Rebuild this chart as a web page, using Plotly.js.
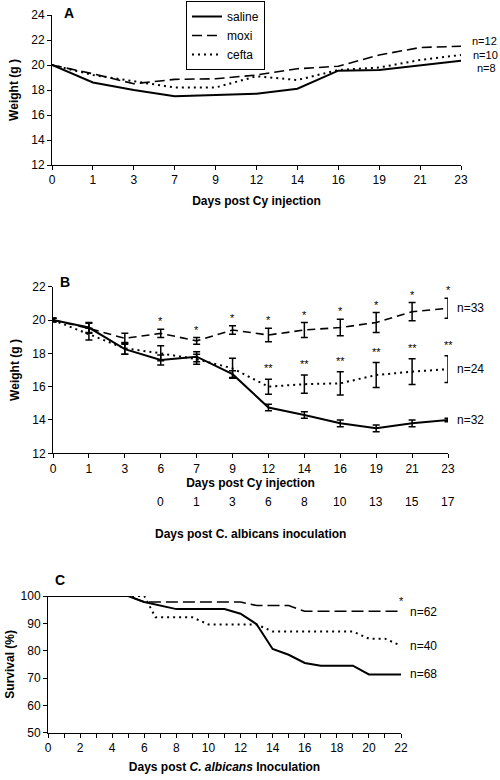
<!DOCTYPE html>
<html><head><meta charset="utf-8">
<script src="https://cdn.plot.ly/plotly-3.0.1.min.js"></script>
<style>html,body{margin:0;padding:0;background:#fff}#chart{width:500px;height:780px}</style>
</head><body><div id="chart"></div>
<script>
// ---------- Panel A ----------
const cyDaysA = ['0','1','3','7','9','12','14','16','19','21','23'];
const salineA = [20, 18.6, 18.0, 17.5, 17.6, 17.7, 18.1, 19.55, 19.6, 20.0, 20.35];
const moxiA   = [20, 19.3, 18.5, 18.85, 18.9, 19.2, 19.7, 19.9, 20.8, 21.4, 21.5];
const ceftaA  = [20, 19.2, 18.7, 18.2, 18.2, 19.1, 18.8, 19.6, 19.8, 20.4, 20.8];
const nLabelsA = ['n=8', 'n=12', 'n=10']; // saline, moxi, cefta

// ---------- Panel B ----------
const cyDaysB = ['0','1','3','6','7','9','12','14','16','19','21','23'];
const inocDaysB = ['0','1','3','6','8','10','13','15','17']; // under Cy days 6..23
const salineB   = [20, 19.55, 18.25, 17.6, 17.8, 16.75, 14.75, 14.3, 13.8, 13.5, 13.8, 14.0];
const salineErr = [0.1, 0.3, 0.3, 0.3, 0.3, 0.2, 0.2, 0.2, 0.2, 0.2, 0.2, 0.1];
const moxiB     = [20, 19.5, 18.9, 19.2, 18.75, 19.4, 19.1, 19.4, 19.55, 19.85, 20.5, 20.7];
const moxiErr   = [0.1, 0.3, 0.3, 0.25, 0.2, 0.25, 0.4, 0.45, 0.5, 0.6, 0.55, 0.6];
const ceftaB    = [20, 19.15, 18.3, 18.0, 17.65, 17.1, 16.0, 16.15, 16.2, 16.7, 16.9, 17.05];
const ceftaErr  = [0.1, 0.35, 0.35, 0.45, 0.3, 0.6, 0.45, 0.55, 0.7, 0.75, 0.77, 0.8];
const moxiStarDays  = ['6','7','9','12','14','16','19','21','23'];
const ceftaStarDays = ['12','14','16','19','21','23'];
const nLabelsB = ['n=32', 'n=33', 'n=24'];

// ---------- Panel C ----------
const survSalineDays = [0, 5, 6, 7, 8, 11, 12, 13, 14, 15, 16, 17, 19, 20, 22];
const survSaline     = [100, 100, 97.8, 96.5, 95.2, 95.2, 93.5, 89.7, 80.6, 78.5, 75.5, 74.5, 74.5, 71.3, 71.3];
const survMoxiDays   = [0, 5, 6, 12, 13, 15, 16, 22];
const survMoxi       = [100, 100, 97.8, 97.8, 96.5, 96.5, 94.4, 94.4];
const survCeftaDays  = [0, 6, 6.7, 9, 10, 13, 14, 19, 20, 21, 22];
const survCefta      = [100, 100, 92.2, 92.2, 89.6, 89.6, 87, 87, 84.4, 84.4, 81.8];
const nLabelsC = ['n=68', 'n=62', 'n=40'];

const FONT = 'Liberation Sans, Arial, sans-serif';
const px = x => x / 500;
const py = y => 1 - y / 780;

const styles = {
  saline: {color: '#000', width: 2, dash: 'solid'},
  moxi:   {color: '#000', width: 1.6, dash: '10px,5px'},
  cefta:  {color: '#000', width: 2, dash: '2px,4px'}
};
const errStyle = arr => ({type: 'data', array: arr, visible: true, color: '#000', thickness: 1.5, width: 3.5});

const traces = [
  {x: cyDaysA, y: salineA, name: 'saline', mode: 'lines', line: styles.saline, xaxis: 'x', yaxis: 'y'},
  {x: cyDaysA, y: moxiA, name: 'moxi', mode: 'lines', line: styles.moxi, xaxis: 'x', yaxis: 'y'},
  {x: cyDaysA, y: ceftaA, name: 'cefta', mode: 'lines', line: styles.cefta, xaxis: 'x', yaxis: 'y'},
  {x: cyDaysB, y: salineB, error_y: errStyle(salineErr), mode: 'lines', line: styles.saline, xaxis: 'x2', yaxis: 'y2', showlegend: false},
  {x: cyDaysB, y: moxiB, error_y: errStyle(moxiErr), mode: 'lines', line: {color: '#000', width: 1.6, dash: '8px,5px'}, xaxis: 'x2', yaxis: 'y2', showlegend: false},
  {x: cyDaysB, y: ceftaB, error_y: errStyle(ceftaErr), mode: 'lines', line: styles.cefta, xaxis: 'x2', yaxis: 'y2', showlegend: false},
  {x: survSalineDays, y: survSaline, mode: 'lines', line: styles.saline, xaxis: 'x3', yaxis: 'y3', showlegend: false},
  {x: survMoxiDays, y: survMoxi, mode: 'lines', line: {color: '#000', width: 1.6, dash: '12px,5px'}, xaxis: 'x3', yaxis: 'y3', showlegend: false},
  {x: survCeftaDays, y: survCefta, mode: 'lines', line: styles.cefta, xaxis: 'x3', yaxis: 'y3', showlegend: false}
];

const tickFont = {family: FONT, size: 12, color: '#000'};
const titleFont = {family: FONT, size: 12, color: '#000'};
const baseAxis = {showline: true, linecolor: '#000', linewidth: 1, showgrid: false, zeroline: false,
  ticks: 'outside', ticklen: 4, tickcolor: '#000', tickwidth: 1, tickfont: tickFont};

const annotations = [];
const ann = (o) => annotations.push(Object.assign({showarrow: false, font: {family: FONT, size: 12, color: '#000'}}, o));

// panel letters
ann({text: '<b>A</b>', xref: 'paper', yref: 'paper', x: px(62), y: py(13), xanchor: 'left', yanchor: 'middle', font: {family: FONT, size: 14, color: '#000'}});
ann({text: '<b>B</b>', xref: 'paper', yref: 'paper', x: px(58), y: py(282), xanchor: 'left', yanchor: 'middle', font: {family: FONT, size: 14, color: '#000'}});
ann({text: '<b>C</b>', xref: 'paper', yref: 'paper', x: px(53), y: py(580), xanchor: 'left', yanchor: 'middle', font: {family: FONT, size: 14, color: '#000'}});

// n labels A (category axes: annotation x given as category index)
const lastA = cyDaysA.length - 1;
const nFontA = {family: FONT, size: 11, color: '#000'};
ann({text: nLabelsA[1], x: lastA, y: moxiA[lastA], xref: 'x', yref: 'y', xanchor: 'right', xshift: 38, yshift: 5, font: nFontA});
ann({text: nLabelsA[2], x: lastA, y: ceftaA[lastA], xref: 'x', yref: 'y', xanchor: 'right', xshift: 39, yshift: 0, font: nFontA});
ann({text: nLabelsA[0], x: lastA, y: salineA[lastA], xref: 'x', yref: 'y', xanchor: 'right', xshift: 37, yshift: -7, font: nFontA});

// n labels B
const lastB = cyDaysB.length - 1;
ann({text: nLabelsB[1], x: lastB, y: moxiB[lastB], xref: 'x2', yref: 'y2', xanchor: 'left', xshift: 7});
ann({text: nLabelsB[2], x: lastB, y: ceftaB[lastB], xref: 'x2', yref: 'y2', xanchor: 'left', xshift: 7});
ann({text: nLabelsB[0], x: lastB, y: salineB[lastB], xref: 'x2', yref: 'y2', xanchor: 'left', xshift: 7});

// stars B
const starFont = {family: FONT, size: 11, color: '#000'};
moxiStarDays.forEach(d => {
  const i = cyDaysB.indexOf(d);
  ann({text: '*', x: i, y: moxiB[i] + moxiErr[i], xref: 'x2', yref: 'y2', yanchor: 'bottom', yshift: 0, font: starFont});
});
ceftaStarDays.forEach(d => {
  const i = cyDaysB.indexOf(d);
  ann({text: '**', x: i, y: ceftaB[i] + ceftaErr[i], xref: 'x2', yref: 'y2', yanchor: 'bottom', yshift: 3, font: starFont});
});

// second x row for B (days post C. albicans inoculation)
inocDaysB.forEach((d, k) => {
  ann({text: d, x: k + 3, xref: 'x2', y: py(502), yref: 'paper', yanchor: 'middle', font: tickFont});
});
ann({text: '<b>Days post C. albicans inoculation</b>', xref: 'paper', yref: 'paper', x: px(250), y: py(534), yanchor: 'middle', font: titleFont});

// n labels C
const lastC = survMoxiDays[survMoxiDays.length - 1];
ann({text: nLabelsC[1], x: lastC, y: survMoxi[survMoxi.length - 1], xref: 'x3', yref: 'y3', xanchor: 'left', xshift: 7, yshift: -1});
ann({text: nLabelsC[2], x: lastC, y: survCefta[survCefta.length - 1], xref: 'x3', yref: 'y3', xanchor: 'left', xshift: 7});
ann({text: nLabelsC[0], x: lastC, y: survSaline[survSaline.length - 1], xref: 'x3', yref: 'y3', xanchor: 'left', xshift: 7});
ann({text: '*', x: lastC, y: survMoxi[survMoxi.length - 1], xref: 'x3', yref: 'y3', yanchor: 'bottom', yshift: 2, font: starFont});

const layout = {
  width: 500, height: 780,
  margin: {l: 0, r: 0, t: 0, b: 0},
  paper_bgcolor: '#fff', plot_bgcolor: '#fff',
  font: {family: FONT, size: 12, color: '#000'},
  showlegend: true,
  legend: {x: px(186), y: py(1), xanchor: 'left', yanchor: 'top', bordercolor: '#000', borderwidth: 1,
    bgcolor: '#fff', font: {family: FONT, size: 12, color: '#000'}, itemwidth: 30, tracegroupgap: 0},
  xaxis: Object.assign({}, baseAxis, {type: 'category', domain: [px(52), px(461)], range: [0, cyDaysA.length - 1],
    anchor: 'y', title: {text: '<b>Days post Cy injection</b>', font: titleFont, standoff: 10}}),
  yaxis: Object.assign({}, baseAxis, {domain: [py(165), py(15)], range: [12, 24], dtick: 2, anchor: 'x',
    title: {text: '<b>Weight (g )</b>', font: titleFont}}),
  xaxis2: Object.assign({}, baseAxis, {type: 'category', domain: [px(53), px(448)], range: [0, cyDaysB.length - 1],
    anchor: 'y2', title: {text: '<b>Days post Cy injection</b>', font: titleFont, standoff: 2}}),
  yaxis2: Object.assign({}, baseAxis, {domain: [py(453.3), py(286.7)], range: [12, 22], dtick: 2, anchor: 'x2',
    title: {text: '<b>Weight (g )</b>', font: titleFont}}),
  xaxis3: Object.assign({}, baseAxis, {domain: [px(48), px(401)], range: [0, 22], tickvals: [0,2,4,6,8,10,12,14,16,18,20,22],
    minor: {dtick: 1, ticks: 'outside', ticklen: 4, tickcolor: '#000'}, anchor: 'y3',
    title: {text: '<b>Days post <i>C. albicans</i> Inoculation</b>', font: titleFont, standoff: 8}}),
  yaxis3: Object.assign({}, baseAxis, {domain: [py(732.7), py(596)], range: [50, 100], dtick: 10, anchor: 'x3',
    title: {text: '<b>Survival (%)</b>', font: titleFont}}),
  annotations: annotations
};

Plotly.newPlot('chart', traces, layout, {displayModeBar: false, staticPlot: true});
</script></body></html>
